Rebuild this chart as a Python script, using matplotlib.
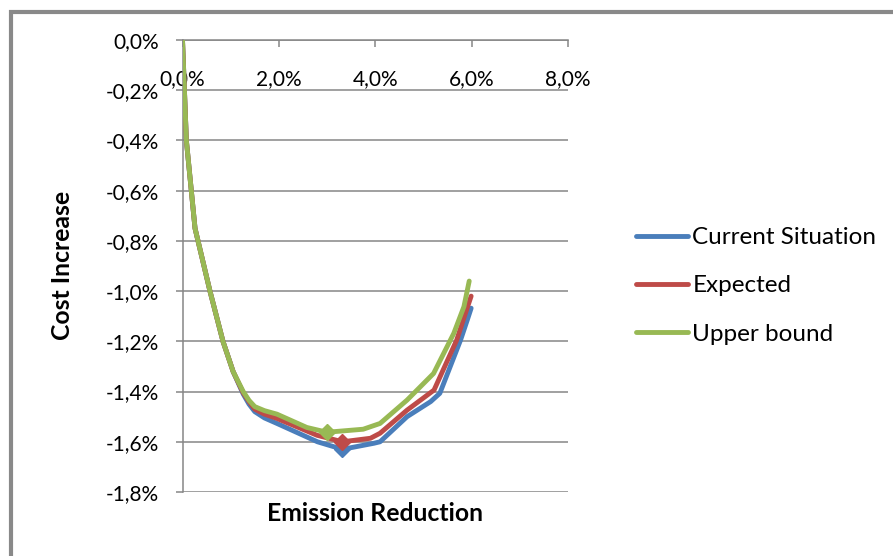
import matplotlib.pyplot as plt
from matplotlib.patches import Rectangle
from matplotlib.ticker import FuncFormatter

# emission reduction (%) vs cost increase (%) for three scenarios
cur_x = [0, 0.08, 0.26, 0.57, 0.84, 1.05, 1.26, 1.38, 1.50, 1.70, 1.96, 2.80, 3.32, 3.97, 4.10, 4.66, 5.15, 5.34, 5.77, 5.91, 5.99]
cur_y = [0, -0.40, -0.75, -1.00, -1.20, -1.32, -1.41, -1.45, -1.48, -1.505, -1.527, -1.60, -1.63, -1.606, -1.60, -1.50, -1.44, -1.407, -1.195, -1.115, -1.068]

exp_x = [0, 0.08, 0.26, 0.57, 0.84, 1.05, 1.26, 1.38, 1.50, 1.70, 1.96, 2.79, 3.32, 3.90, 4.10, 4.66, 5.22, 5.69, 5.87, 5.99]
exp_y = [0, -0.40, -0.75, -1.00, -1.20, -1.32, -1.405, -1.44, -1.47, -1.49, -1.507, -1.574, -1.60, -1.586, -1.566, -1.474, -1.394, -1.195, -1.089, -1.02]

upp_x = [0, 0.08, 0.26, 0.57, 0.84, 1.05, 1.26, 1.38, 1.50, 1.70, 1.96, 2.58, 3.00, 3.75, 4.10, 4.66, 5.21, 5.63, 5.84, 5.95]
upp_y = [0, -0.40, -0.75, -1.00, -1.20, -1.32, -1.40, -1.435, -1.46, -1.476, -1.49, -1.543, -1.562, -1.55, -1.527, -1.434, -1.328, -1.168, -1.062, -0.96]

# highlighted optimum of each scenario
opt_x = [3.32, 3.32, 3.00]
opt_y = [-1.63, -1.60, -1.562]

names = ['Current Situation', 'Expected', 'Upper bound']
colors = ['#4A7EBB', '#BE4B48', '#98B954']

plt.rcParams['font.family'] = ['Lato', 'DejaVu Sans']

fig = plt.figure(figsize=(8.93, 5.56), dpi=100)
ax = fig.add_axes([182.5/893, 1-492/556, 385.5/893, 452/556])

series = [(cur_x, cur_y), (exp_x, exp_y), (upp_x, upp_y)]
for (x, y), c, n, ox, oy in zip(series, colors, names, opt_x, opt_y):
    ax.plot(x, y, color=c, lw=3.5, label=n, solid_capstyle='round', solid_joinstyle='round', zorder=3)
    ax.plot([ox], [oy], marker='D', ms=8.5, color=c, zorder=4)

ax.set_xlim(0, 8)
ax.set_ylim(-1.8, 0)
ax.set_xticks([0, 2, 4, 6, 8])
ax.set_yticks([-1.8, -1.6, -1.4, -1.2, -1.0, -0.8, -0.6, -0.4, -0.2, 0])
pct = FuncFormatter(lambda v, p: f'{v:.1f}%'.replace('.', ',').replace('-0,0', '0,0'))
ax.xaxis.set_major_formatter(pct)
ax.yaxis.set_major_formatter(pct)

grey = '#868686'
ax.grid(axis='y', color=grey, lw=1.1)
ax.set_axisbelow(True)
for s in ['top', 'right']:
    ax.spines[s].set_visible(False)
ax.spines['bottom'].set_position(('data', 0))
ax.spines['bottom'].set_color(grey)
ax.spines['left'].set_color(grey)
ax.spines['bottom'].set_linewidth(1.1)
ax.spines['left'].set_linewidth(1.1)
ax.tick_params(axis='x', direction='out', length=5, color=grey, width=1.1, pad=16, labelsize=15)
ax.tick_params(axis='y', direction='out', length=5, color=grey, width=1.1, pad=12, labelsize=15)

ax.set_xlabel('Emission Reduction', fontsize=17.8, fontweight='bold')
ax.xaxis.set_label_coords(0.5, -0.047)
ax.xaxis.label.set_va('center')
ax.set_ylabel('Cost Increase', fontsize=17.8, fontweight='bold')
ax.yaxis.set_label_coords(-0.31, 0.502)
ax.yaxis.label.set_va('center')

ax.legend(loc='upper left', bbox_to_anchor=(636/893, 1-227/556), bbox_transform=fig.transFigure,
          frameon=False, fontsize=17.5, handlelength=2.15, handletextpad=0.17, labelspacing=1.13,
          borderpad=0, borderaxespad=0)

# chart area border
fig.patches.append(Rectangle((10.5/893, -0.1), 1.2, 1.1 - 11.5/556, transform=fig.transFigure,
                             fill=False, ec='#898989', lw=3))

fig.savefig('out.png', dpi=100)
